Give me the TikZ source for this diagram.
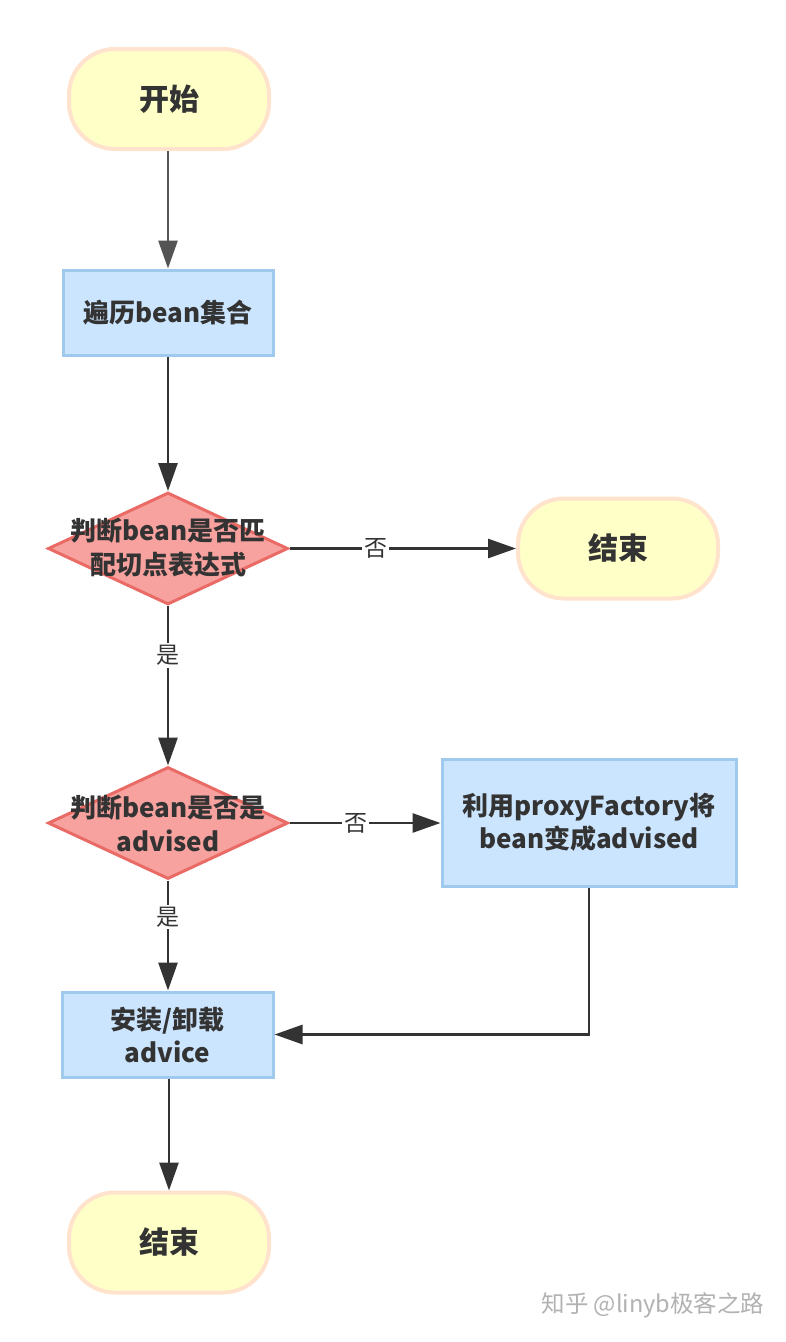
\documentclass[tikz,border=0pt]{standalone}
\usepackage{fontspec}
\setmainfont{Noto Sans CJK SC}
\usetikzlibrary{shapes.geometric,arrows.meta}
\definecolor{termfill}{HTML}{FFFFC8}
\definecolor{termdraw}{HTML}{FFE3CC}
\definecolor{boxfill}{HTML}{CCE5FF}
\definecolor{boxdraw}{HTML}{9FCAEE}
\definecolor{diafill}{HTML}{F7A29F}
\definecolor{diadraw}{HTML}{EA6B66}
\definecolor{txt}{HTML}{333333}
\definecolor{lineclr}{HTML}{333333}
\tikzset{
  term/.style={rectangle, rounded corners=46pt, fill=termfill, draw=termdraw, line width=4pt,
    minimum width=200pt, minimum height=100pt, font=\fontsize{30}{34}\selectfont\bfseries, text=txt},
  procbox/.style={rectangle, fill=boxfill, draw=boxdraw, line width=3pt, align=center,
    font=\fontsize{26}{33}\selectfont\bfseries, text=txt},
  dia/.style={diamond, fill=diafill, draw=diadraw, line width=3pt, inner sep=0pt,
    minimum width=240pt, minimum height=112pt},
  diatext/.style={align=center, font=\fontsize{26}{34}\selectfont\bfseries, text=txt},
  conn/.style={draw=lineclr, line width=2.8pt, -{Triangle[length=28pt,width=19pt]}},
  lbl/.style={fill=white, inner sep=2pt, font=\fontsize{23}{26}\selectfont, text=txt},
}
\begin{document}
\begin{tikzpicture}[x=1pt,y=-1pt]
\fill[white] (0,0) rectangle (786,1342);
\useasboundingbox (0,0) rectangle (786,1342);

\node[term] (start) at (169,99) {开始};
\node[procbox, minimum width=210pt, minimum height=85pt] (iter) at (168,312.5) {遍历bean集合};
\node[dia] (d1) at (168,548.5) {};
\node[diatext] (d1t) at (168,548) {判断bean是否匹\\配切点表达式};
\node[term] (end1) at (618,548.5) {结束};
\node[dia] (d2) at (168,823) {};
\node[diatext] (d2t) at (168,823) {判断bean是否是\\advised};
\node[procbox, minimum width=294pt, minimum height=127pt] (proxy) at (589,822.5) {利用proxyFactory将\\bean变成advised};
\node[procbox, minimum width=211pt, minimum height=85pt] (inst) at (167.5,1034.5) {安装/卸载\\advice};
\node[term] (end2) at (169,1242.5) {结束};

\draw[conn, draw=black!67] (start.south -| iter.north) -- (iter.north);
\draw[conn] (iter.south) -- (d1.north);
\draw[conn] (d1.east) -- node[lbl, pos=0.38] (n1) {否} (end1.west);
\draw[conn] (d1.south) -- node[lbl, pos=0.31] (y1) {是} (d2.north);
\draw[conn] (d2.east) -- node[lbl, pos=0.44] (n2) {否} (proxy.west |- d2.east);
\draw[conn] (d2.south) -- node[lbl, pos=0.33] (y2) {是} (d2.south |- inst.north);
\draw[conn] (proxy.south) |- (inst.east);
\draw[conn] (inst.south -| end2.north) -- (end2.north);

\node[text=black!30, font=\fontsize{23.5}{26}\selectfont] (wm) at (653,1305) {知乎 @linyb极客之路};
\end{tikzpicture}
\end{document}
